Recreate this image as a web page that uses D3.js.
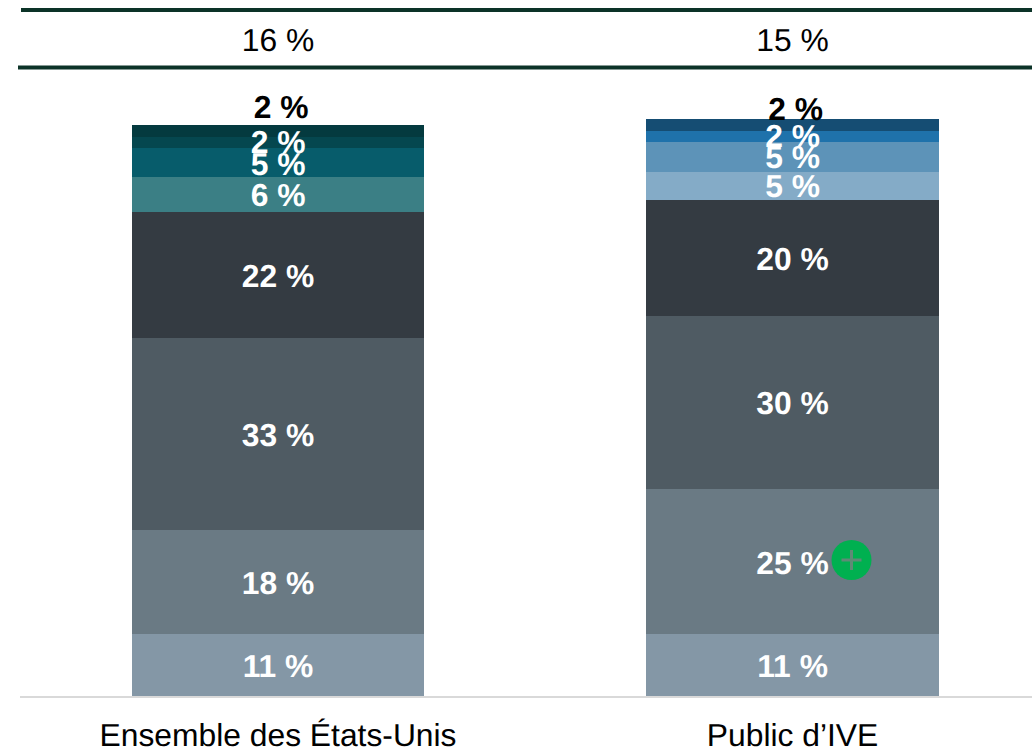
<!DOCTYPE html>
<html>
<head>
<meta charset="utf-8">
<script src="https://cdnjs.cloudflare.com/ajax/libs/d3/7.8.5/d3.min.js"></script>
<style>
	html, body { margin: 0; padding: 0; background: #fff; overflow: hidden; }
	text { font-family: "Liberation Sans", Arial, sans-serif; text-rendering: geometricPrecision; }
</style>
</head>
<body>
<div id="chart"></div>
<script>
/* stacked bars, two columns */

// bottom to top
const categories = ["Ensemble des États-Unis", "Public d’IVE"];
const headerValues = ["16 %", "15 %"];
const usValues = [10.85, 18.05, 33.25, 21.9, 6.1, 5.05, 1.9, 2.1];
const iveValues = [10.85, 25.1, 30.1, 20.05, 4.85, 5.2, 1.9, 2.1];
const usLabels = ["11 %", "18 %", "33 %", "22 %", "6 %", "5 %", "2 %", "2 %"];
const iveLabels = ["11 %", "25 %", "30 %", "20 %", "5 %", "5 %", "2 %", "2 %"];

const greys = ["#8497a6", "#6a7a84", "#4f5b63", "#343b42"];
const usColors = greys.concat(["#3b7f85", "#075c6b", "#05474f", "#043a3f"]);
const iveColors = greys.concat(["#84abc7", "#5d93b8", "#1f72ab", "#154d73"]);

const width = 1032, height = 750;
const baseline = 696;
const fontSize = 31.8;

// hand placed label nudges, the crowded top of each bar
const usShifts = [0, 0, 0, 0, -1, 0, -2, -25];
const iveShifts = [0, 0, -1, 0, -2, -2, -2, -18];

const columns = [
	{name: categories[0], values: usValues, labels: usLabels, colors: usColors, shifts: usShifts},
	{name: categories[1], values: iveValues, labels: iveLabels, colors: iveColors, shifts: iveShifts}
];

const svg = d3.select("#chart").append("svg")
	.attr("width", width)
	.attr("height", height)
	.style("display", "block");

const x = d3.scaleBand()
	.domain(categories)
	.range([20.8, 1049.8])
	.paddingInner(0.4315)
	.paddingOuter(0.2157);

const y = d3.scaleLinear()
	.domain([0, 100])
	.range([baseline, 120]);

// top rules
svg.selectAll(".rule")
	.data([[21, 10, 4], [18, 67.5, 4]])
	.enter()
	.append("rect")
	.attr("class", "rule")
	.attr("x", d => d[0])
	.attr("y", d => d[1] - d[2] / 2)
	.attr("width", d => width - d[0])
	.attr("height", d => d[2])
	.style("fill", "#0c3328");

svg.selectAll(".header")
	.data(headerValues)
	.enter()
	.append("text")
	.attr("class", "header")
	.attr("x", (d, i) => x(categories[i]) + x.bandwidth() / 2)
	.attr("y", 51)
	.style("text-anchor", "middle")
	.style("font-size", fontSize + "px")
	.style("fill", "#000")
	.text(d => d);

// axis line
svg.append("rect")
	.attr("x", 20)
	.attr("y", 696)
	.attr("width", width - 20)
	.attr("height", 2)
	.style("fill", "#d9d9d9");

columns.forEach(col => {
	// running total for each segment
	let total = 0;
	const segments = col.values.map((v, i) => {
		const seg = {y0: total, y1: total + v, label: col.labels[i], color: col.colors[i], shift: col.shifts[i]};
		total += v;
		return seg;
	});

	const g = svg.append("g");

	g.selectAll("rect")
		.data(segments)
		.enter()
		.append("rect")
		.attr("x", x(col.name))
		.attr("y", d => y(d.y1))
		.attr("width", x.bandwidth())
		.attr("height", d => y(d.y0) - y(d.y1))
		.attr("shape-rendering", "crispEdges")
		.style("fill", d => d.color);

	g.selectAll("text")
		.data(segments)
		.enter()
		.append("text")
		.attr("x", (d, i) => x(col.name) + x.bandwidth() / 2 + (i === segments.length - 1 ? 3 : 0))
		.attr("y", d => (y(d.y0) + y(d.y1)) / 2 + 12.5 + d.shift)
		.style("text-anchor", "middle")
		.style("font-size", fontSize + "px")
		.style("font-weight", "bold")
		.style("fill", (d, i) => i === segments.length - 1 ? "#000" : "#fff")
		.text(d => d.label);

	svg.append("text")
		.attr("x", x(col.name) + x.bandwidth() / 2)
		.attr("y", 746)
		.style("text-anchor", "middle")
		.style("font-size", fontSize + "px")
		.style("fill", "#000")
		.text(col.name);
});

// green plus marker
const marker = svg.append("g")
	.attr("transform", "translate(851.5, 560)");

marker.append("circle")
	.attr("r", 20)
	.style("fill", "#00b050");

marker.selectAll("line")
	.data([[-10, 0, 10, 0], [0, -10, 0, 10]])
	.enter()
	.append("line")
	.attr("x1", d => d[0])
	.attr("y1", d => d[1])
	.attr("x2", d => d[2])
	.attr("y2", d => d[3])
	.style("stroke", "#5f8a76")
	.style("stroke-width", 3);
</script>
</body>
</html>
